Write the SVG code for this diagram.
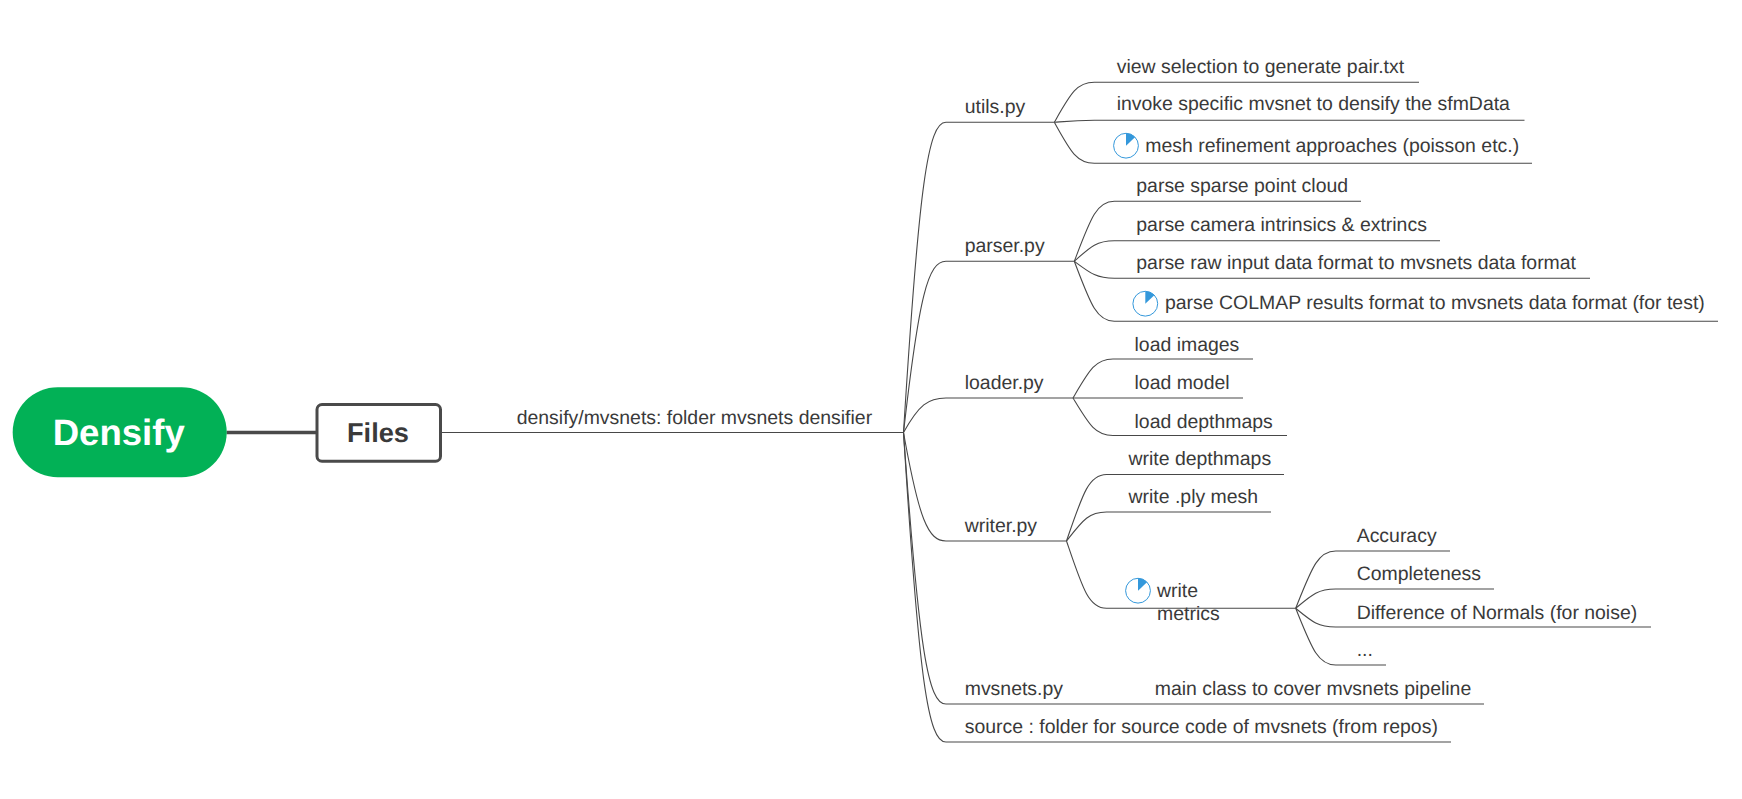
<svg xmlns="http://www.w3.org/2000/svg" xmlns:xlink="http://www.w3.org/1999/xlink" width="1742" height="799" viewBox="0 0 1742 799">
<style>
text{font-family:"Liberation Sans",Arial,sans-serif;font-size:19.45px;fill:#3a3a3a;text-rendering:geometricPrecision}
.c{fill:none;stroke:#484848;stroke-width:1.1}
.title{font-weight:bold;text-anchor:middle}
</style>
<defs>
<g id="pie"><circle r="12.4" fill="#fff" stroke="#3498db" stroke-width="1"/><path d="M0 0V-12.4A12.4 12.4 0 0 1 9 -8.5Z" fill="#3498db"/></g>
</defs>
<rect width="1742" height="799" fill="#fff"/>
<g id="connectors">
<path d="M226.5 432.5H317" fill="none" stroke="#4a4a4a" stroke-width="3.4"/>
<path class="c" d="M440.7 432.5H903.5"/>
<path class="c" d="M903.5 432.5C919 184.3 928 122.3 946 122.3H1054.3"/>
<path class="c" d="M903.5 432.5C919 295.5 928 261.3 946 261.3H1074.3"/>
<path class="c" d="M903.5 432.5C919 404.9 928 398 946 398H1073"/>
<path class="c" d="M903.5 432.5C919 519.3 928 541 946 541H1066.5"/>
<path class="c" d="M903.5 432.5C919 650 928 704 946 704H1484"/>
<path class="c" d="M903.5 432.5C919 680 928 742 946 742H1451"/>
<path class="c" d="M1054.3 122.3C1070.3 94.3 1076.3 82.3 1094.3 82.3H1419"/>
<path class="c" d="M1054.3 122.3C1070.3 121 1076.3 120.3 1094.3 120.3H1524.5"/>
<path class="c" d="M1054.3 122.3C1070.3 151 1076.3 163.3 1094.3 163.3H1532"/>
<path class="c" d="M1074.3 261.3C1090.3 219.3 1096.3 201.3 1114.3 201.3H1361"/>
<path class="c" d="M1074.3 261.3C1090.3 246.9 1096.3 240.7 1114.3 240.7H1440"/>
<path class="c" d="M1074.3 261.3C1090.3 273.2 1096.3 278.3 1114.3 278.3H1590"/>
<path class="c" d="M1074.3 261.3C1090.3 303.3 1096.3 321.3 1114.3 321.3H1718"/>
<path class="c" d="M1073 398C1089 370.7 1095 359 1113 359H1253"/>
<path class="c" d="M1073 398H1243"/>
<path class="c" d="M1073 398C1089 424.3 1095 435.5 1113 435.5H1287"/>
<path class="c" d="M1066.5 541C1082.5 494.5 1088.5 474.5 1106.5 474.5H1284"/>
<path class="c" d="M1066.5 541C1082.5 520.7 1088.5 512 1106.5 512H1271"/>
<path class="c" d="M1066.5 541C1082.5 588.1 1088.5 608.3 1106.5 608.3H1295.7"/>
<path class="c" d="M1295.7 608.3C1311.7 568.2 1317.7 551 1335.7 551H1450"/>
<path class="c" d="M1295.7 608.3C1311.7 594.8 1317.7 589 1335.7 589H1494"/>
<path class="c" d="M1295.7 608.3C1311.7 621.4 1317.7 627 1335.7 627H1651"/>
<path class="c" d="M1295.7 608.3C1311.7 648 1317.7 665 1335.7 665H1386"/>
</g>
<g id="densify"><rect x="12.7" y="387.3" width="214" height="90" rx="45" fill="#02b156"/><text class="title" x="118.7" y="445" style="font-size:36.6px;fill:#fff">Densify</text></g>
<g id="files"><rect x="317" y="404.6" width="123.5" height="56.6" rx="5" fill="#fff" stroke="#4a4a4a" stroke-width="3"/><text class="title" x="378" y="442" style="font-size:27.2px">Files</text></g>
<g id="folder"><text x="516.7" y="424">densify/mvsnets: folder mvsnets densifier</text></g>
<g id="utils"><text x="964.7" y="113.3">utils.py</text></g>
<g id="view"><text x="1116.7" y="73.3">view selection to generate pair.txt</text></g>
<g id="invoke"><text x="1116.7" y="110">invoke specific mvsnet to densify the sfmData</text></g>
<g id="mesh"><use xlink:href="#pie" href="#pie" x="1126" y="145.7"/><text x="1145.3" y="152">mesh refinement approaches (poisson etc.)</text></g>
<g id="parser"><text x="964.7" y="252.3">parser.py</text></g>
<g id="sparse"><text x="1136.3" y="192.3">parse sparse point cloud</text></g>
<g id="camera"><text x="1136.3" y="231.3">parse camera intrinsics &amp; extrincs</text></g>
<g id="raw"><text x="1136.3" y="269">parse raw input data format to mvsnets data format</text></g>
<g id="colmap"><use xlink:href="#pie" href="#pie" x="1145.3" y="303.7"/><text x="1165" y="309.3">parse COLMAP results format to mvsnets data format (for test)</text></g>
<g id="loader"><text x="964.7" y="389">loader.py</text></g>
<g id="images"><text x="1134.5" y="351">load images</text></g>
<g id="model"><text x="1134.5" y="388.8">load model</text></g>
<g id="depthmaps-load"><text x="1134.5" y="428">load depthmaps</text></g>
<g id="writer"><text x="964.7" y="532">writer.py</text></g>
<g id="depthmaps-write"><text x="1128.5" y="464.8">write depthmaps</text></g>
<g id="ply"><text x="1128.5" y="502.8">write .ply mesh</text></g>
<g id="metrics"><use xlink:href="#pie" href="#pie" x="1138" y="590.7"/><text x="1157" y="597">write</text><text x="1157" y="620">metrics</text></g>
<g id="accuracy"><text x="1356.7" y="542">Accuracy</text></g>
<g id="completeness"><text x="1356.7" y="580">Completeness</text></g>
<g id="normals"><text x="1356.7" y="619">Difference of Normals (for noise)</text></g>
<g id="more"><text x="1356.7" y="656">...</text></g>
<g id="mvsnets"><text x="964.7" y="695">mvsnets.py</text></g>
<g id="mainclass"><text x="1154.7" y="695">main class to cover mvsnets pipeline</text></g>
<g id="source"><text x="964.7" y="733">source : folder for source code of mvsnets (from repos)</text></g>
</svg>
